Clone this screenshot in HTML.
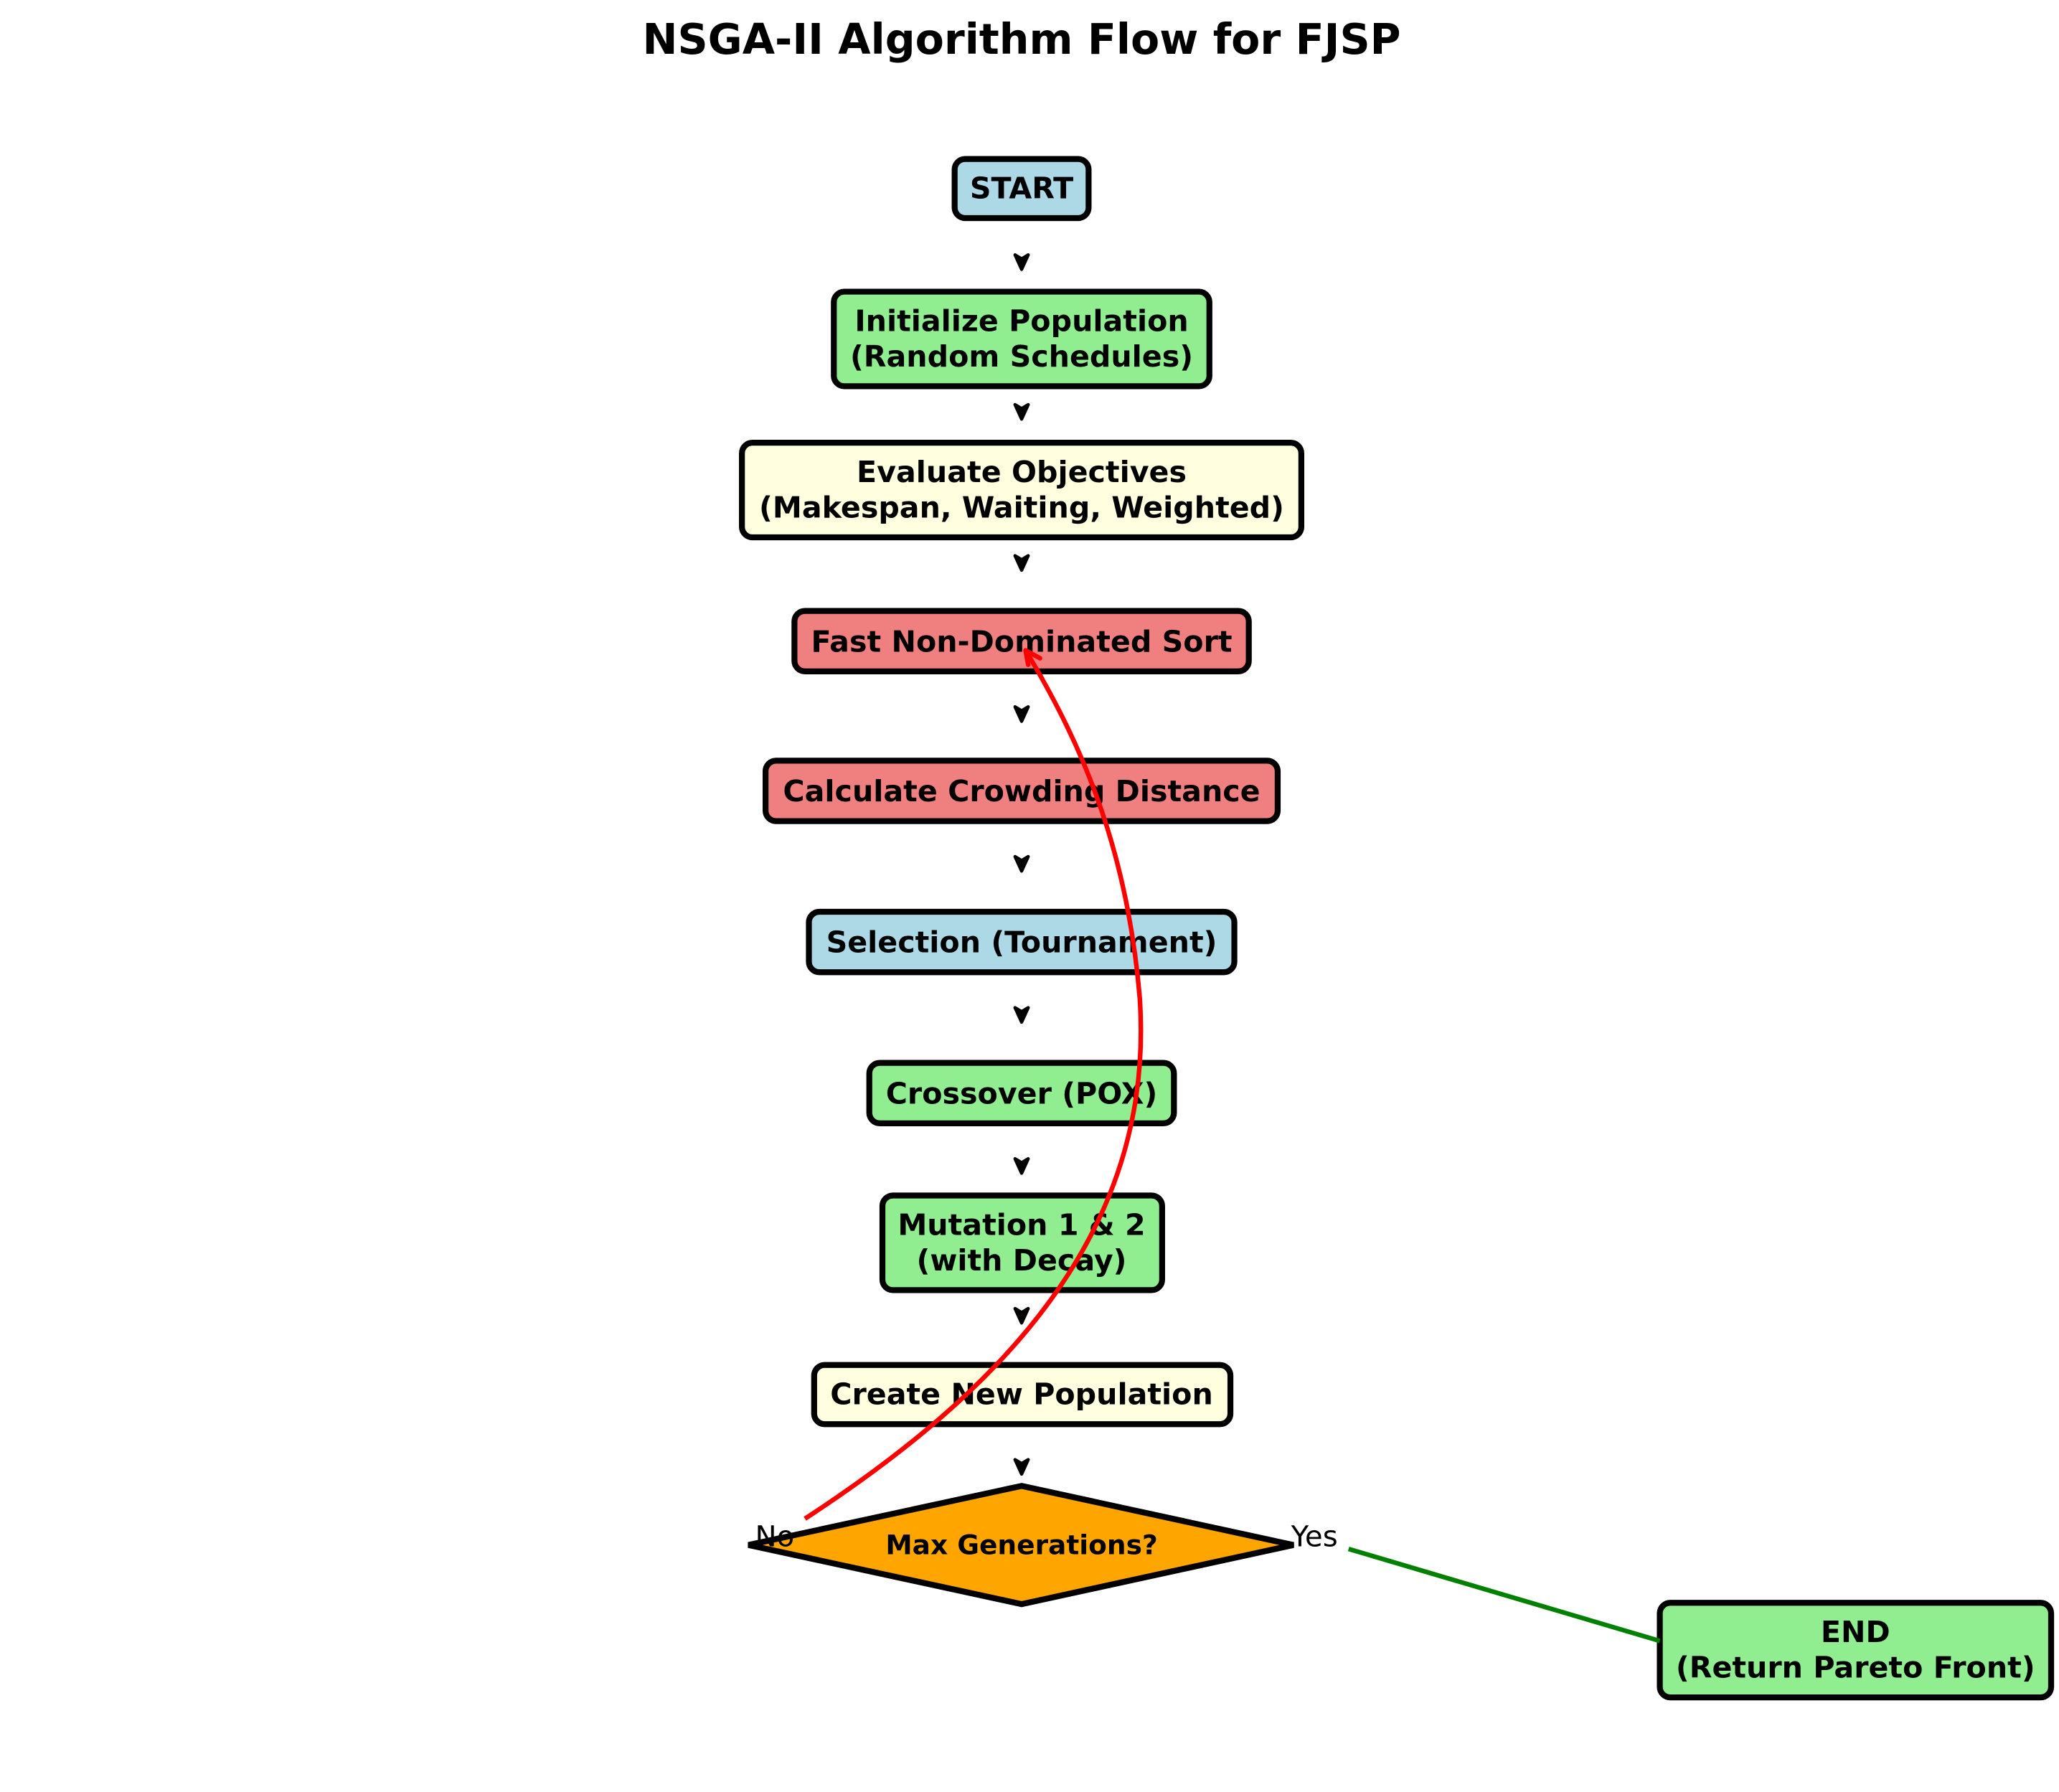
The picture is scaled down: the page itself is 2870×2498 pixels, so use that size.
<!DOCTYPE html>
<html><head><style>html,body{margin:0;padding:0;background:#fff}svg{display:block}</style></head>
<body>
<svg width="2870" height="2498" viewBox="0 0 1568 1364" preserveAspectRatio="none" xmlns="http://www.w3.org/2000/svg" font-family="DejaVu Sans, Liberation Sans, sans-serif">
<text x="778" y="41" text-anchor="middle" font-size="32" font-weight="bold">NSGA-II Algorithm Flow for FJSP</text>
<g stroke="#000" stroke-width="4.5">
<rect x="727" y="121" width="102" height="45" rx="8" fill="#add8e6"/>
<rect x="635" y="222" width="286" height="72" rx="8" fill="#90ee90"/>
<rect x="565" y="337" width="426" height="72" rx="8" fill="#ffffe0"/>
<rect x="605" y="465" width="346" height="46" rx="8" fill="#f08080"/>
<rect x="583" y="579" width="390" height="46" rx="8" fill="#f08080"/>
<rect x="616" y="694" width="324" height="46" rx="8" fill="#add8e6"/>
<rect x="662" y="809" width="232" height="46" rx="8" fill="#90ee90"/>
<rect x="672" y="910" width="213" height="72" rx="8" fill="#90ee90"/>
<rect x="620" y="1039" width="317" height="45" rx="8" fill="#ffffe0"/>
<polygon points="778,1131 985,1176 778,1221 570,1176" fill="#ffa500"/>
<rect x="1264" y="1220" width="298" height="72" rx="8" fill="#90ee90"/>
</g>
<g fill="#000" stroke="#000" stroke-width="2.5" stroke-linejoin="round">
<path d="M773 194 L778 205 L783 194 L778 197 Z"/>
<path d="M773 308 L778 319 L783 308 L778 311 Z"/>
<path d="M773 423 L778 434 L783 423 L778 426 Z"/>
<path d="M773 538 L778 549 L783 538 L778 541 Z"/>
<path d="M773 652 L778 663 L783 652 L778 655 Z"/>
<path d="M773 767 L778 778 L783 767 L778 770 Z"/>
<path d="M773 882 L778 893 L783 882 L778 885 Z"/>
<path d="M773 996 L778 1007 L783 996 L778 999 Z"/>
<path d="M773 1111 L778 1122 L783 1111 L778 1114 Z"/>
</g>
<g font-size="22.5" font-weight="bold" text-anchor="middle">
<text x="778" y="151">START</text>
<text x="778" y="252">Initialize Population</text>
<text x="778" y="279">(Random Schedules)</text>
<text x="778" y="367">Evaluate Objectives</text>
<text x="778" y="394">(Makespan, Waiting, Weighted)</text>
<text x="778" y="496">Fast Non-Dominated Sort</text>
<text x="778" y="610">Calculate Crowding Distance</text>
<text x="778" y="725">Selection (Tournament)</text>
<text x="778" y="840">Crossover (POX)</text>
<text x="778" y="940">Mutation 1 &amp; 2</text>
<text x="778" y="967">(with Decay)</text>
<text x="778" y="1069">Create New Population</text>
<text x="778" y="1183" font-size="20.5">Max Generations?</text>
<text x="1413" y="1250">END</text>
<text x="1413" y="1277">(Return Pareto Front)</text>
</g>
<path d="M613 1156 C 760 1060 880 940 868 760 C 858 640 820 560 781 495" fill="none" stroke="#f00" stroke-width="3.5"/>
<path d="M781 495 L783 506 M781 495 L792 501" fill="none" stroke="#f00" stroke-width="3.5" stroke-linecap="round"/>
<line x1="1027" y1="1179" x2="1264" y2="1249" stroke="#008000" stroke-width="3.5"/>
<text x="590" y="1177" font-size="22" text-anchor="middle">No</text>
<text x="1001" y="1177" font-size="22" text-anchor="middle">Yes</text>
</svg>
</body></html>
